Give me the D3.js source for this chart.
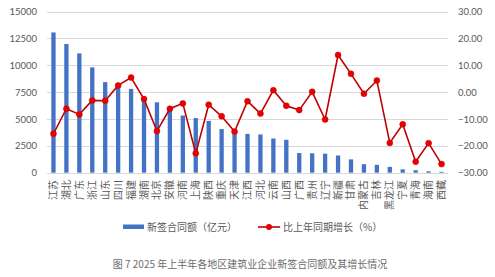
<!DOCTYPE html>
<html><head><meta charset="utf-8">
<script src="https://cdn.jsdelivr.net/npm/d3@7"></script>
<style>
html,body{margin:0;padding:0;background:#fff;}
svg{display:block;font-family:"Noto Sans CJK SC","Noto Sans",sans-serif;}
</style></head>
<body><svg id="c" width="495" height="277"></svg>
<script>
const regions = ["江苏","湖北","广东","浙江","山东","四川","福建","湖南","北京","安徽","河南","上海","陕西","重庆","天津","江西","河北","云南","山西","广西","贵州","辽宁","新疆","甘肃","内蒙古","吉林","黑龙江","宁夏","青海","海南","西藏"];
const contractValues = [13050,11980,11100,9800,8430,8000,7800,6900,6550,5900,5320,5080,4820,4060,3850,3610,3560,3180,3060,1830,1800,1770,1600,1240,790,730,540,310,230,130,80];
const growthValues = [-15.5,-6.2,-8.3,-3.1,-3.2,2.5,5.4,-2.6,-14.5,-6.2,-4.2,-22.8,-4.7,-9.0,-14.7,-3.4,-8.0,0.7,-5.1,-6.7,0.1,-10.2,13.8,6.8,-0.6,4.3,-18.9,-12.0,-25.9,-19.0,-26.8];
const leftTicks = [0,2500,5000,7500,10000,12500,15000];
const rightTicks = [-30,-20,-10,0,10,20,30];
const seriesNames = ["新签合同额（亿元）","比上年同期增长（%）"];
const caption = "图 7 2025 年上半年各地区建筑业企业新签合同额及其增长情况";

const svg = d3.select("#c");
const m = {l:47, r:448, t:11.5, b:172.7};
const x = d3.scaleBand().domain(regions).range([m.l, m.r]).paddingInner(0.66).paddingOuter(0.33);
const yL = d3.scaleLinear().domain([0,15000]).range([m.b, m.t]);
const yR = d3.scaleLinear().domain([-30,30]).range([m.b, m.t]);
const grey = "#595959";

// gridlines
svg.append("g").selectAll("line").data(leftTicks).join("line")
  .attr("x1", m.l).attr("x2", m.r)
  .attr("y1", d=>Math.round(yL(d))+0.5).attr("y2", d=>Math.round(yL(d))+0.5)
  .attr("stroke", "#d9d9d9").attr("stroke-width", 1);

// left axis
const axL = d3.axisLeft(yL).tickValues(leftTicks).tickSize(0).tickPadding(10).tickFormat(d=>d);
const gL = svg.append("g").attr("transform", `translate(${m.l},0)`).call(axL);
gL.select(".domain").remove();
gL.selectAll("text").attr("fill", grey).attr("font-size", 9.5).attr("font-family","Lato, 'Noto Sans', sans-serif");

// right axis
const axR = d3.axisRight(yR).tickValues(rightTicks).tickSize(0).tickPadding(10).tickFormat(d3.format(".2f"));
const gR = svg.append("g").attr("transform", `translate(${m.r},0)`).call(axR);
gR.select(".domain").remove();
gR.selectAll("text").attr("fill", grey).attr("font-size", 9.5).attr("font-family","Lato, 'Noto Sans', sans-serif");

// bars
const bw = 4.3;
svg.append("g").selectAll("rect").data(regions).join("rect")
  .attr("x", (d)=> x(d) + x.bandwidth()/2 - bw/2)
  .attr("width", bw)
  .attr("y", (d,i)=> yL(contractValues[i]))
  .attr("height", (d,i)=> yL(0) - yL(contractValues[i]))
  .attr("fill", "#4472c4");

// line
const cx = d => x(d) + x.bandwidth()/2;
const line = d3.line().x((d,i)=>cx(regions[i])).y(d=>yR(d));
svg.append("path").datum(growthValues).attr("d", line)
  .attr("fill","none").attr("stroke","#c00000").attr("stroke-width",1.6);
svg.append("g").selectAll("circle").data(growthValues).join("circle")
  .attr("cx",(d,i)=>cx(regions[i])).attr("cy", d=>yR(d)).attr("r", 3)
  .attr("fill","#e60000").attr("stroke","#d00000").attr("stroke-width",0.5);

// category labels (rotated -90)
svg.append("g").selectAll("text").data(regions).join("text")
  .attr("transform", d=>`translate(${cx(d)+3.5},180) rotate(-90)`)
  .attr("text-anchor","end")
  .attr("font-size", 10).attr("fill", grey)
  .text(d=>d);

// legend
const lg = svg.append("g");
lg.append("rect").attr("x",123).attr("y",224.5).attr("width",21).attr("height",4.5).attr("fill","#4472c4");
lg.append("text").attr("x",147).attr("y",230.5).attr("font-size",10).attr("fill",grey).text(seriesNames[0]);
lg.append("line").attr("x1",258).attr("x2",280).attr("y1",227).attr("y2",227).attr("stroke","#c00000").attr("stroke-width",1.6);
lg.append("circle").attr("cx",269).attr("cy",227).attr("r",3).attr("fill","#e60000");
lg.append("text").attr("x",283).attr("y",230.5).attr("font-size",10).attr("fill",grey).text(seriesNames[1]);

// caption
svg.append("text").attr("x",250).attr("y",267.5).attr("text-anchor","middle")
  .attr("font-size",10).attr("fill","#6b6b6b").text(caption);
</script></body></html>
